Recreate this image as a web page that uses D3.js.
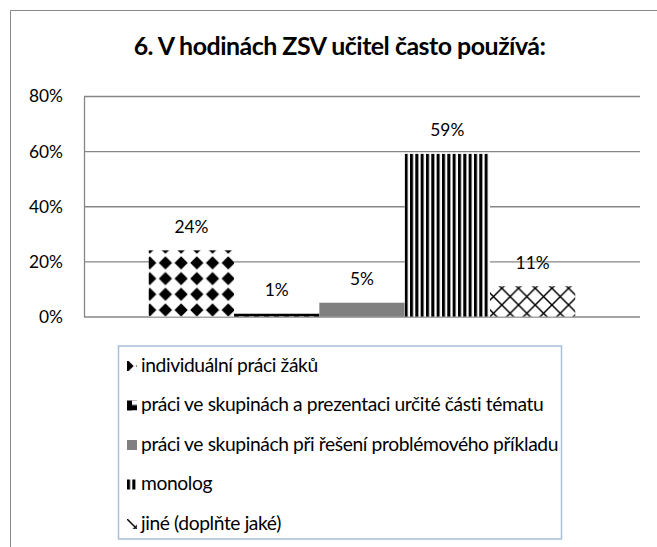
<!DOCTYPE html>
<html><head><meta charset="utf-8">
<script src="https://cdn.jsdelivr.net/npm/d3@7"></script>
<style>
body{margin:0;background:#fff}
svg{display:block}
text{font-family:Lato,"Open Sans",sans-serif;fill:#000}
</style>
</head><body><svg id="c" width="657" height="547"></svg>
<script>
const chartTitle = "6. V hodinách ZSV učitel často používá:";
const seriesNames = [
  "individuální práci žáků",
  "práci ve skupinách a prezentaci určité části tématu",
  "práci ve skupinách při řešení problémového příkladu",
  "monolog",
  "jiné (doplňte jaké)"
];
const seriesValues = [0.24, 0.01, 0.05, 0.59, 0.11];
const dataLabels = ["24%", "1%", "5%", "59%", "11%"];
const yTicks = [0, 0.2, 0.4, 0.6, 0.8];
const yTickLabels = ["0%", "20%", "40%", "60%", "80%"];
const fillKinds = ["diamond", "notch", "gray", "vstripe", "lattice"];

const svg = d3.select("#c");
const defs = svg.append("defs");
const W = 657, H = 547;
const plot = {left: 84, right: 640, top: 96, bottom: 316.5};

const x = d3.scaleBand().domain(seriesNames).range([plot.left, plot.right]).paddingInner(0).paddingOuter(0.759);
const y = d3.scaleLinear().domain([0, 0.8]).range([plot.bottom, plot.top]);

function makePattern(kind, id, ox, oy, bw) {
  if (kind === "gray") return "#808080";
  const p = defs.append("pattern").attr("id", id).attr("patternUnits", "userSpaceOnUse");
  if (kind === "diamond") {
    const P = 15.7, r = 6.6;
    p.attr("x", ox - P / 2).attr("y", oy - P / 2).attr("width", P).attr("height", P);
    p.append("rect").attr("width", P).attr("height", P).attr("fill", "#fff");
    const c = P / 2;
    p.append("polygon").attr("points", `${c},${c - r} ${c + r},${c} ${c},${c + r} ${c - r},${c}`).attr("fill", "#000");
  } else if (kind === "notch") {
    p.attr("x", ox).attr("y", oy).attr("width", 10).attr("height", 10);
    p.append("rect").attr("width", 10).attr("height", 10).attr("fill", "#000");
    p.append("rect").attr("x", 5).attr("y", 0).attr("width", 5).attr("height", 4.5).attr("fill", "#fff");
  } else if (kind === "vstripe") {
    const w = bw / 16;
    p.attr("x", ox).attr("y", 0).attr("width", w).attr("height", 10);
    p.append("rect").attr("width", w).attr("height", 10).attr("fill", "#fff");
    p.append("rect").attr("width", w * 0.57).attr("height", 10).attr("fill", "#000");
  } else if (kind === "lattice") {
    const P = 16.7;
    p.attr("x", ox - P / 2).attr("y", oy - P / 2).attr("width", P).attr("height", P);
    p.append("rect").attr("width", P).attr("height", P).attr("fill", "#fff");
    p.append("path").attr("d", `M0,0L${P},${P}M${P},0L0,${P}`).attr("stroke", "#000").attr("stroke-width", 1.5).attr("fill", "none");
  }
  return `url(#${id})`;
}

svg.append("path").attr("d", `M10.5,${H}V10.5H${W}`).attr("fill", "none").attr("stroke", "#898989").attr("stroke-width", 1);

function fitFont(sel, target) {
  const w = sel.node().getComputedTextLength();
  const fs = parseFloat(sel.attr("font-size")) * target / w;
  sel.attr("font-size", fs);
  return fs;
}
const t = svg.append("text").attr("x", 339.5).attr("y", 55).attr("text-anchor", "middle")
  .attr("font-weight", "bold").attr("font-size", 20).attr("letter-spacing", -0.5).text(chartTitle);
fitFont(t, 407);

const yAxis = d3.axisLeft(y).tickValues(yTicks).tickFormat((d, i) => yTickLabels[i])
  .tickSize(-(plot.right - plot.left)).tickSizeOuter(0).tickPadding(21);
const ag = svg.append("g").attr("transform", `translate(${plot.left},0)`).call(yAxis);
ag.select(".domain").attr("stroke", "#868686").attr("stroke-width", 1.3);
ag.selectAll(".tick line").attr("stroke", "#868686").attr("stroke-width", 1.3);
const tickTexts = ag.selectAll(".tick text").attr("fill", "#000").attr("font-size", 16);
const probe = ag.selectAll(".tick text").filter((d, i) => i === 4);
const tickFs = fitFont(probe, 34);
tickTexts.attr("font-size", tickFs).attr("dy", "0.34em");
ag.attr("font-family", null).attr("font-size", null);

const bw = x.bandwidth();
const barFills = seriesNames.map((s, i) => {
  const k = fillKinds[i], x0 = x(s);
  if (k === "diamond") return makePattern(k, "bp" + i, x0 + 1, y(0) - 6.5, bw);
  if (k === "notch") return makePattern(k, "bp" + i, x0, y(0) - 10, bw);
  if (k === "vstripe") return makePattern(k, "bp" + i, x0, 0, bw);
  if (k === "lattice") return makePattern(k, "bp" + i, x0 + 3.5, y(0) - 3.2, bw);
  return makePattern(k, "bp" + i, 0, 0, bw);
});
svg.append("g").selectAll("rect").data(seriesNames).join("rect")
  .attr("x", d => x(d)).attr("width", bw)
  .attr("y", (d, i) => y(seriesValues[i]))
  .attr("height", (d, i) => y(0) - y(seriesValues[i]))
  .attr("fill", (d, i) => barFills[i]);

svg.append("g").selectAll("text").data(seriesNames).join("text")
  .attr("x", d => x(d) + bw / 2)
  .attr("y", (d, i) => y(seriesValues[i]) - 17.5)
  .attr("text-anchor", "middle").attr("font-size", tickFs)
  .text((d, i) => dataLabels[i]);

const lg = svg.append("g");
lg.append("rect").attr("x", 118.5).attr("y", 346).attr("width", 443).attr("height", 193)
  .attr("fill", "#fff").attr("stroke", "#a8bfdc").attr("stroke-width", 1.5);
const rowStep = 39.5, row0 = 366;
const items = lg.selectAll("g.item").data(seriesNames).join("g").attr("class", "item");
items.append("rect")
  .attr("x", 127).attr("y", (d, i) => row0 + i * rowStep - 5).attr("width", 10).attr("height", 10)
  .attr("fill", (d, i) => {
    const k = fillKinds[i], sy = row0 + i * rowStep - 5;
    if (k === "diamond") return makePattern(k, "lp" + i, 127, sy + 5, bw);
    if (k === "notch") return makePattern(k, "lp" + i, 127, sy, bw);
    if (k === "vstripe") return makePattern(k, "lp" + i, 127, 0, bw);
    if (k === "lattice") return makePattern(k, "lp" + i, 127 + 8.35, sy + 8.35, bw);
    return makePattern(k, "lp" + i, 0, 0, bw);
  });
const ltexts = items.append("text").attr("x", 141).attr("y", (d, i) => row0 + i * rowStep + 5.5)
  .attr("font-size", 16).attr("letter-spacing", -0.4).text(d => d);
const legFs = fitFont(ltexts.filter((d, i) => i === 2), 413);
ltexts.attr("font-size", legFs);
</script>
</body></html>
